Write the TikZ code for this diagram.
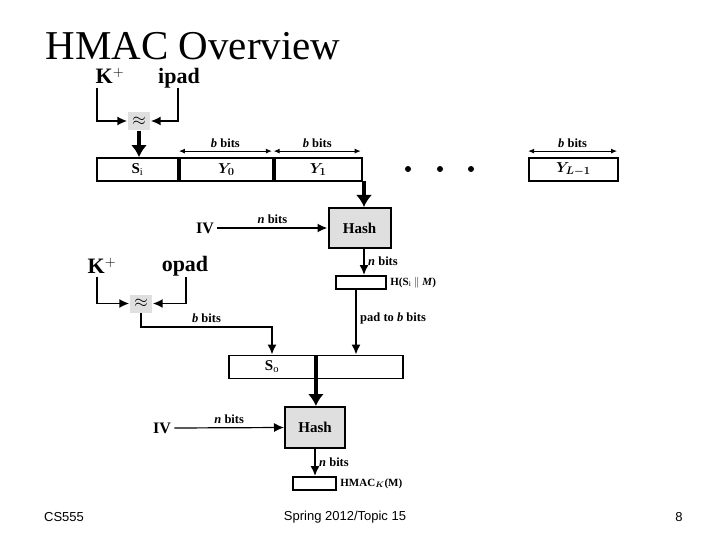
\documentclass[tikz,border=0pt]{standalone}
\usepackage{amsmath}
\usepackage{fontspec}
\setmainfont{Liberation Serif}
\newfontfamily\footfont{Liberation Sans}
\usetikzlibrary{arrows.meta}
\begin{document}
\begin{tikzpicture}[x=1pt, y=-1pt,
  cell/.style={draw, line width=1.8pt, minimum height=23pt, inner sep=0pt, font=\bfseries\fontsize{15}{17}\selectfont},
  xorbox/.style={draw=white, fill=gray!25, minimum width=23pt, minimum height=19pt, inner sep=0pt, font=\fontsize{16}{16}\selectfont},
  hashbox/.style={draw, line width=2pt, fill=gray!25, minimum width=62pt, minimum height=40pt, font=\bfseries\fontsize{15}{17}\selectfont},
  outbox/.style={draw, line width=1.8pt, minimum height=13pt, inner sep=0pt},
  key/.style={font=\bfseries\fontsize{22}{24}\selectfont},
  wire/.style={line width=1.8pt, -{Latex[length=10pt,width=9pt]}},
  fat/.style={line width=3.5pt, -{Latex[length=12pt,width=16pt]}},
  bits/.style={{Latex[length=6pt,width=5pt]}-{Latex[length=6pt,width=5pt]}, line width=1pt},
  lbl/.style={font=\bfseries\fontsize{12.5}{14}\selectfont}]
\useasboundingbox (0,0) rectangle (720,540);
\node [anchor=base west, font=\fontsize{41}{43}\selectfont] (title) at (42,60) {HMAC Overview};

% inner key
\node [key] (kin) at (110,76) {K$^{+}$};
\node [key] (ipad) at (179,78) {ipad};
\node [xorbox] (xin) at (139,121) {$\approx$};
\draw [wire] (97,88) |- (xin.west);
\draw [wire] (178,88) |- (xin.east);

% message blocks
\node [cell, minimum width=81pt] (si) at (137.5,169.5) {S$_\mathrm{i}$};
\node [cell, minimum width=93pt, anchor=west] (y0) at (si.east) {$\boldsymbol{Y_0}$};
\node [cell, minimum width=87pt, anchor=west] (y1) at (y0.east) {$\boldsymbol{Y_1}$};
\node [cell, minimum width=89pt] (yl) at (573.5,169.5) {$\boldsymbol{Y_{L-1}}$};
\foreach \x in {408,440,471} \fill (\x,169) circle (3pt);
\draw [fat] (xin.south) -- (si.north -| xin.south);
\draw [bits] (y0.north west) ++(0,-6) -- node [lbl, above] {\textit{b} bits} ++(93,0);
\draw [bits] (y1.north west) ++(0,-6) -- node [lbl, above] {\textit{b} bits} ++(87,0);
\draw [bits] (yl.north west) ++(0,-6) -- node [lbl, above] {\textit{b} bits} ++(89,0);

% inner hash
\node [hashbox] (hash1) at (359.5,228) {Hash};
\node [font=\bfseries\fontsize{16}{18}\selectfont] (iv1) at (205,228) {IV};
\coordinate (y1out) at (364,181);
\draw [fat] (y1out) -- (y1out |- hash1.north);
\draw [wire] (iv1.east) -- node [lbl, above] {\textit{n} bits} (hash1.west);
\node [outbox, minimum width=50pt] (hin) at (361,282.5) {};
\node [lbl, anchor=west, font=\bfseries\fontsize{11}{13}\selectfont] (hinl) at (hin.east) {H(S$_\mathrm{i}$ $\|$ \textit{M})};
\coordinate (h1out) at (364,248);
\draw [wire] (h1out) -- node [lbl, right] {\textit{n} bits} (h1out |- hin.north);

% outer key
\node [key] (kout) at (102,266) {K$^{+}$};
\node [key] (opad) at (185,266) {opad};
\node [xorbox] (xout) at (141,303.5) {$\approx$};
\draw [wire] (97,277) |- (xout.west);
\draw [wire] (186,277) |- (xout.east);

% outer block
\node [cell, minimum width=86pt] (so) at (272,367) {S$_\mathrm{o}$};
\node [cell, minimum width=86pt, anchor=west] (sh) at (so.east) {};
\coordinate (bend) at (272,327);
\draw [wire] (xout.south) |- node [lbl, above, pos=0.75] {\textit{b} bits} (bend) -- (so.north);
\coordinate (pad) at (356,289);
\draw [wire] (pad) -- node [lbl, right, pos=0.45] {pad to \textit{b} bits} (pad |- sh.north);

% outer hash
\node [hashbox, minimum width=60pt, minimum height=41pt] (hash2) at (315,427.5) {Hash};
\node [font=\bfseries\fontsize{16}{18}\selectfont] (iv2) at (162,428) {IV};
\draw [fat] (so.south east) -- (so.south east |- hash2.north);
\draw [wire, line width=1.2pt] (iv2.east) -- node [lbl, above] {\textit{n} bits} (hash2.west);
\node [outbox, minimum width=43pt] (mac) at (314.5,483.5) {};
\node [lbl, anchor=west, font=\bfseries\fontsize{11}{13}\selectfont] (macl) at (mac.east) {HMAC$_{\boldsymbol{K}}$(M)};
\draw [wire] (hash2.south) -- node [lbl, right] {\textit{n} bits} (hash2.south |- mac.north);

% footer
\node [font=\footfont\fontsize{13}{15}\selectfont] (course) at (64,517) {CS555};
\node [font=\footfont\fontsize{13}{15}\selectfont] (term) at (345,517) {Spring 2012/Topic 15};
\node [font=\footfont\fontsize{13}{15}\selectfont] (page) at (679,517) {8};
\end{tikzpicture}
\end{document}
